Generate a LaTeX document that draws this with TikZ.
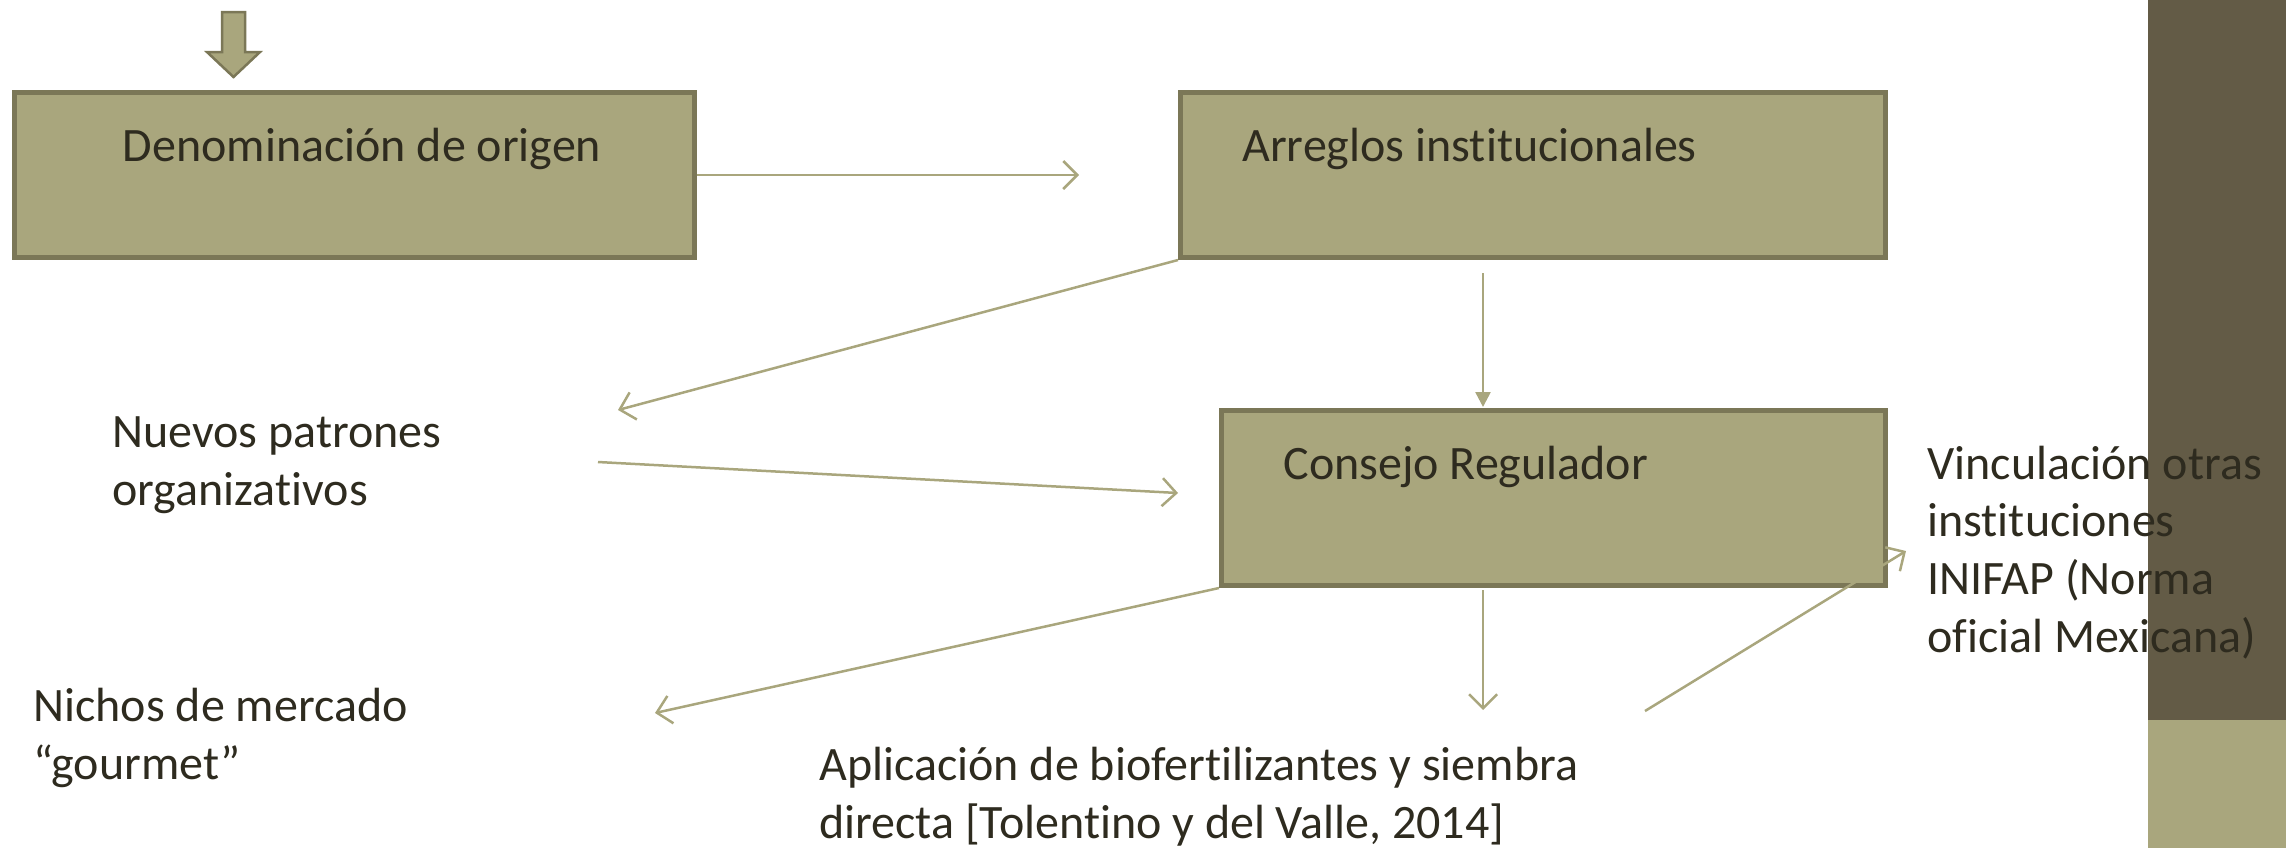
\documentclass[tikz,border=0pt]{standalone}
\usepackage{fontspec}
\setmainfont{Carlito}[Ligatures={NoCommon}]
\usetikzlibrary{arrows.meta}
\definecolor{olive}{HTML}{A9A67D}
\definecolor{oliveline}{HTML}{7B7757}
\definecolor{darkbar}{HTML}{635B46}
\definecolor{ink}{HTML}{2E2B1F}
\tikzset{
  box/.style={draw=oliveline, fill=olive, line width=2.5pt, inner sep=0pt},
  txt/.style={text=ink, font=\fontsize{24}{28.8}\selectfont, inner sep=0pt, align=left},
  conn/.style={draw=olive, line width=1.25pt, -{Straight Barb[length=7pt,width=14pt]}},
}
\begin{document}
\begin{tikzpicture}[x=0.5pt,y=-0.5pt]
  \useasboundingbox (0,0) rectangle (2286,848);
  \fill[darkbar] (2148,0) rectangle (2286,720);
  \fill[olive] (2148,720) rectangle (2286,848);

  \filldraw[fill=olive, draw=oliveline, line width=1.25pt] (222,12) -- (245,12) -- (245,52) -- (260,52) -- (233.5,77) -- (207,52) -- (222,52) -- cycle;

  \node[box, minimum width=340pt, minimum height=82.5pt] (den) at (354.5,175) {};
  \node[box, minimum width=352.5pt, minimum height=82.5pt] (arr) at (1533,175) {};
  \node[box, minimum width=332pt, minimum height=87.5pt] (con) at (1553.5,498) {};

  % base anchor sits on the last line
  \node[txt, anchor=base] (dent) at (362,161) {Denominación de origen};
  \node[txt, anchor=base west] (arrt) at (1242,161) {Arreglos institucionales};
  \node[txt, anchor=base west] (cont) at (1283,479) {Consejo Regulador};
  \node[txt, anchor=base west] (nue) at (112,505) {Nuevos patrones\\organizativos};
  \node[txt, anchor=base west] (nic) at (33,779) {Nichos de mercado\\“gourmet”};
  \node[txt, anchor=base west] (apl) at (819,838) {Aplicación de biofertilizantes y siembra\\directa [Tolentino y del Valle, 2014]};
  \node[txt, anchor=base west] (vin) at (1927,652) {Vinculación otras\\instituciones\\INIFAP (Norma\\oficial Mexicana)};

  \coordinate (c1) at (1079,175);
  \coordinate (c2) at (618,410);
  \coordinate (c3a) at (1483,273);
  \coordinate (c3b) at (1483,407);
  \coordinate (c4a) at (598,462);
  \coordinate (c4b) at (1178,493);
  \coordinate (c5) at (655,713);
  \coordinate (c6a) at (1483,590);
  \coordinate (c6b) at (1483,710);
  \coordinate (c7a) at (1645,711);
  \coordinate (c7b) at (1906,551);

  \draw[conn] (den.east) -- (c1);
  \draw[conn] (arr.south west) -- (c2);
  \draw[conn, -{Triangle[length=7.5pt,width=7.5pt]}] (c3a) -- (c3b);
  \draw[conn] (c4a) -- (c4b);
  \draw[conn] (con.south west) -- (c5);
  \draw[conn] (c6a) -- (c6b);
  \draw[conn] (c7a) -- (c7b);
\end{tikzpicture}
\end{document}
